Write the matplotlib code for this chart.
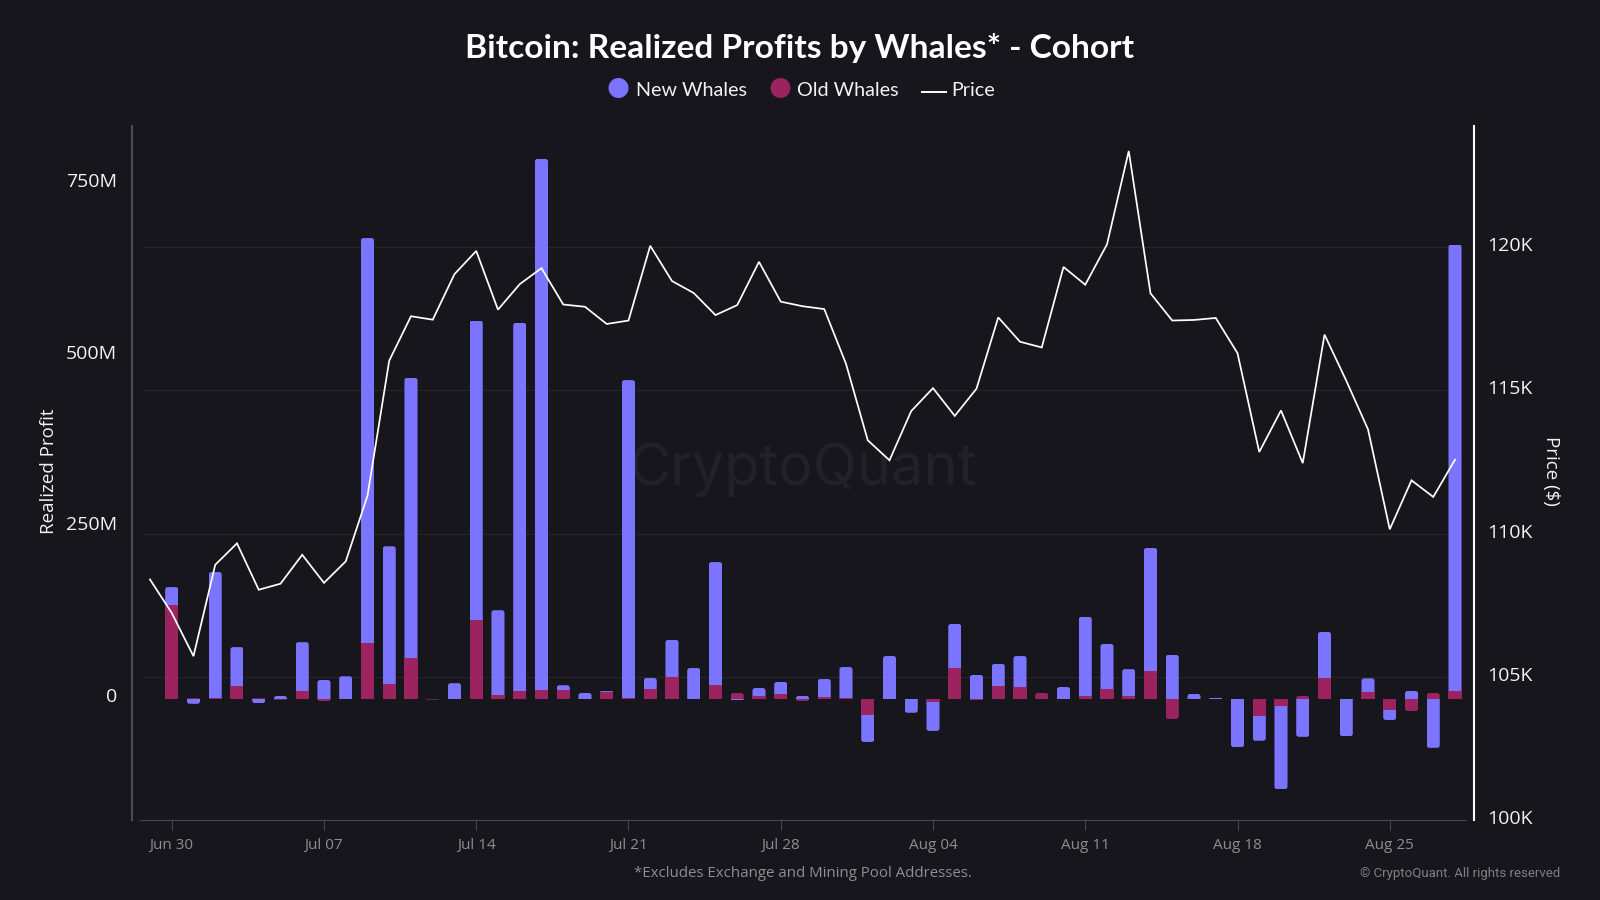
import numpy as np
import pandas as pd
import matplotlib
matplotlib.use("Agg")
import matplotlib.pyplot as plt
import matplotlib.dates as mdates
from matplotlib.patches import FancyBboxPatch, Circle
from matplotlib.lines import Line2D
from matplotlib.transforms import IdentityTransform, ScaledTranslation

title = "Bitcoin: Realized Profits by Whales* - Cohort"
bar_start = "2025-06-30"
price_start = "2025-06-29"

new_whales = [26, -7, 183, 56, -6, 4.4, 71, 27.6, 33, 589,
              200, 407, 0, 23, 435, 123, 535, 772, 7, 8.7,
              1.5, 462, 16, 54, 45, 179, -1.5, 11.6, 17.4, 4.4,
              26, 45, -39.5, 62.5, -20, -42, 64, 35, 32, 45,
              0, 17.4, 115, 65.5, 39, 179, 64, 7.3, 1.5, -70,
              -36, -121, -55, 67, -54, 20, -14.5, 11.6, -71, 649]
old_whales = [136.6, 1, 1.5, 19.4, 1, -1, 11.6, -3, 0, 81,
              22, 60, -1, 0, 115, 6, 11.6, 13, 13, 0,
              10, 1.5, 14.5, 32, 0, 20, 8.7, 4.4, 7.3, -3,
              3, 1.5, -23, 0, 0, -4.4, 45, -1.5, 19, 17.4,
              8.7, 0, 4.4, 14.5, 4.4, 40.7, -29, 0, 0, 0,
              -24.7, -10, 4.4, 30.5, 0, 10, -16, -17.5, 8.7, 11.6]
price_k = [108.40, 107.23, 105.72, 108.91, 109.66, 108.04, 108.25, 109.26, 108.28, 109.03,
           111.32, 116.04, 117.59, 117.47, 119.06, 119.87, 117.82, 118.71, 119.27, 118.00,
           117.92, 117.32, 117.44, 120.05, 118.82, 118.40, 117.63, 117.98, 119.49, 118.10,
           117.94, 117.84, 115.93, 113.26, 112.56, 114.28, 115.08, 114.11, 115.06, 117.55,
           116.70, 116.50, 119.31, 118.69, 120.10, 123.36, 118.39, 117.44, 117.46, 117.53,
           116.30, 112.85, 114.30, 112.46, 116.95, 115.34, 113.64, 110.15, 111.86, 111.28, 112.58]
left_ticks = [0, 250, 500, 750]
left_labels = ["0", "250M", "500M", "750M"]
right_ticks = [100, 105, 110, 115, 120]
right_labels = ["100K", "105K", "110K", "115K", "120K"]
x_tick_dates = ["2025-06-30", "2025-07-07", "2025-07-14", "2025-07-21", "2025-07-28",
                "2025-08-04", "2025-08-11", "2025-08-18", "2025-08-25"]
x_tick_labels = ["Jun 30", "Jul 07", "Jul 14", "Jul 21", "Jul 28", "Aug 04", "Aug 11", "Aug 18", "Aug 25"]

BG = "#17161c"
NEW = "#7b74ff"
OLD = "#9b2360"
GRID = "#25242b"
AXG = "#4b4a53"
GRAY = "#8e8e92"
W, H = 1600, 900

plt.rcParams["font.family"] = ["Open Sans", "DejaVu Sans"]
fig = plt.figure(figsize=(16, 9), dpi=100, facecolor=BG)
ax = fig.add_axes([131.7 / W, 1 - 820 / H, (1473.5 - 131.7) / W, (820 - 125.5) / H], zorder=2)
ax.patch.set_visible(False)

bar_dates = mdates.date2num(pd.date_range(bar_start, periods=len(new_whales), freq="D"))
price_dates = mdates.date2num(pd.date_range(price_start, periods=len(price_k), freq="D"))
new = np.array(new_whales, float)
old = np.array(old_whales, float)
d0 = bar_dates[0]
ax.set_xlim(d0 - 1.84, d0 + 59.85)
ax.set_ylim(-175.9, 833.6)

# grid follows the price axis; drawn on the bar axes so the bars cover it
p_lo, p_hi = 100.0, 124.25
def price_to_left(p):
    lo, hi = ax.get_ylim()
    return lo + (np.asarray(p, float) - p_lo) / (p_hi - p_lo) * (hi - lo)
ax.hlines(price_to_left(right_ticks[1:]), d0 - 1.38, d0 + 58.63, color=GRID, lw=0.9, zorder=1)

same = np.sign(new) == np.sign(old)
new_bottom = np.where(same, old, 0.0)
bars_old = ax.bar(bar_dates, old, width=0.6, color=OLD, linewidth=0, zorder=2, label="Old Whales")
bars_new = ax.bar(bar_dates, new, width=0.6, bottom=new_bottom, color=NEW, linewidth=0, zorder=2, label="New Whales")

# rounded outer ends
def round_end(rect, val_from, val_to, r=2.6):
    x0 = rect.get_x()
    x1 = x0 + rect.get_width()
    (px0, py0) = ax.transData.transform((x0, val_from))
    (px1, py1) = ax.transData.transform((x1, val_to))
    h = py1 - py0
    if abs(h) < 0.2:
        return
    sgn = 1 if h > 0 else -1
    ylow = min(py0 - sgn * 4, py1)
    yhigh = max(py0 - sgn * 4, py1)
    clip = FancyBboxPatch((px0, ylow), px1 - px0, yhigh - ylow,
                          boxstyle=f"round,pad=0,rounding_size={min(r, abs(h)):.2f}",
                          transform=IdentityTransform())
    rect.set_clip_path(clip)

for i, (rn, ro) in enumerate(zip(bars_new, bars_old)):
    round_end(rn, new_bottom[i], new_bottom[i] + new[i])
    if not same[i] or new[i] == 0:
        round_end(ro, 0, old[i])

ax.set_yticks(left_ticks)
ax.set_yticklabels(left_labels)
ax.tick_params(axis="y", length=0, pad=10.7, labelcolor="#f2f2f2", labelsize=14)
off = ScaledTranslation(0, 3.5 / 100, fig.dpi_scale_trans)
for lab in ax.get_yticklabels():
    lab.set_transform(lab.get_transform() + off)
ax.set_xticks(mdates.date2num(pd.to_datetime(x_tick_dates)))
ax.set_xticklabels(x_tick_labels)
ax.tick_params(axis="x", length=7, width=0.7, color=AXG, labelcolor=GRAY, labelsize=11, pad=6)

for s in ["top", "right"]:
    ax.spines[s].set_visible(False)
ax.spines["left"].set_color(AXG)
ax.spines["left"].set_linewidth(1.5)
ax.spines["bottom"].set_color(AXG)
ax.spines["bottom"].set_linewidth(0.8)
ax.spines["bottom"].set_bounds(d0 - 1.46, d0 + 59.5)

axp = ax.twinx()
axp.set_facecolor("none")
axp.set_zorder(3)
axp.set_ylim(p_lo, p_hi)
axp.plot(price_dates, price_k, color="white", lw=1.25, solid_joinstyle="miter", label="Price", zorder=3)
axp.set_yticks(right_ticks)
axp.set_yticklabels(right_labels)
axp.tick_params(axis="y", length=0, pad=10, labelcolor="#f2f2f2", labelsize=14)
off2 = ScaledTranslation(0, 3 / 100, fig.dpi_scale_trans)
for lab in axp.get_yticklabels():
    lab.set_transform(lab.get_transform() + off2)
for s in ["top", "left", "bottom"]:
    axp.spines[s].set_visible(False)
axp.spines["right"].set_color("white")
axp.spines["right"].set_linewidth(1.5)

def ftext(x, y, s, **kw):
    return fig.text(x / W, 1 - y / H, s, **kw)

ftext(803, 470, "CryptoQuant", color="#222127", fontsize=41.5, ha="center", va="center", family="Inter", zorder=0)
ftext(800, 48, title, color="white", fontsize=24.1, fontweight="bold", ha="center", va="center", family="Lato")
ftext(49, 471, "Realized Profit", color="#f2f2f2", fontsize=13.5, rotation=90, ha="center", va="center")
ftext(1551, 471, "Price ($)", color="#f2f2f2", fontsize=13.5, rotation=270, ha="center", va="center")
ftext(803, 873.5, "*Excludes Exchange and Mining Pool Addresses.", color=GRAY, fontsize=10.8, ha="center", va="center")
ftext(1560, 873.5, "© CryptoQuant. All rights reserved", color="#7f7f83", fontsize=9.5, ha="right", va="center", family="Roboto")

# legend
fig.add_artist(Circle((618.5, H - 88), 10, transform=IdentityTransform(), color=NEW, lw=0))
fig.add_artist(Circle((780.5, H - 88), 10, transform=IdentityTransform(), color=OLD, lw=0))
fig.add_artist(Line2D([922 / W, 946 / W], [1 - 92 / H, 1 - 92 / H], color="white", lw=1.4))
for x, s in [(636, "New Whales"), (797, "Old Whales"), (951, "Price")]:
    ftext(x, 91, s, color="#f2f2f2", fontsize=14.2, ha="left", va="center", family="Lato")

fig.savefig("out.png", dpi=100, facecolor=BG)
